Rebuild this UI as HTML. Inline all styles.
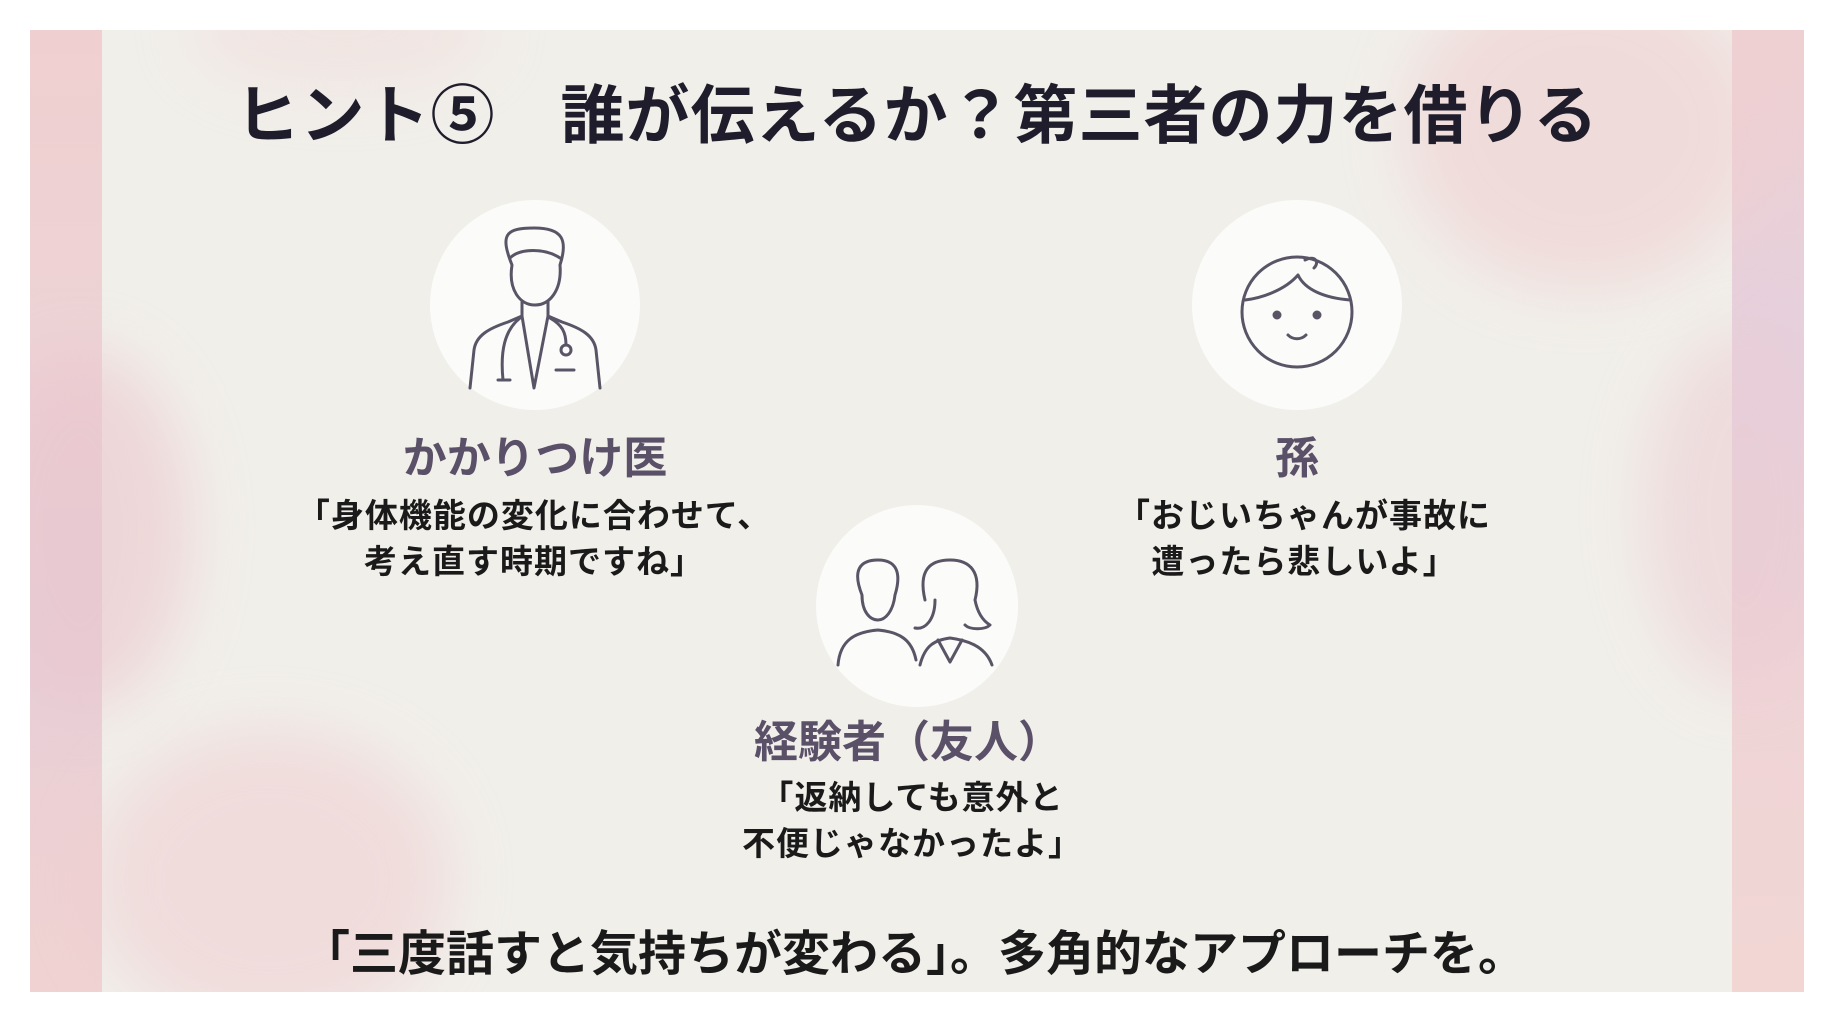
<!DOCTYPE html>
<html><head><meta charset="utf-8"><style>
html,body{margin:0;padding:0;background:#fff;}
body{width:1834px;height:1024px;position:relative;overflow:hidden;font-family:"Liberation Sans","Noto Sans CJK JP",sans-serif;}
#slide{position:absolute;left:30px;top:30px;width:1774px;height:962px;background:#f1efea;overflow:hidden;}
.bg{position:absolute;border-radius:50%;filter:blur(30px);}
.t{position:absolute;white-space:nowrap;text-align:center;transform:translateX(-50%);font-weight:700;}
.circ{position:absolute;border-radius:50%;background:#fbfbf9;}
</style></head><body>
<div id="slide">
 <div style="position:absolute;left:0;top:0;width:72px;height:962px;background:linear-gradient(180deg,#f0cfd0 0%,#edd3d5 30%,#e4cfdc 60%,#ecd0d3 80%,#f0d2d2 100%);"></div>
 <div style="position:absolute;right:0;top:0;width:72px;height:962px;background:linear-gradient(180deg,#efd0d2 0%,#e3d0df 40%,#efd4d6 70%,#f1d6d4 100%);"></div>
 <div class="bg" style="left:-60px;top:320px;width:220px;height:360px;background:#ebc6cc;opacity:.6"></div>
 <div class="bg" style="left:60px;top:700px;width:360px;height:300px;background:#efcdd0;opacity:.55"></div>
 <div class="bg" style="right:40px;top:-60px;width:360px;height:320px;background:#efcfd0;opacity:.6"></div>
 <div class="bg" style="right:-40px;top:300px;width:200px;height:360px;background:#ecccd2;opacity:.55"></div>
 <div class="bg" style="left:160px;top:-60px;width:300px;height:120px;background:#f0d6d6;opacity:.4"></div>
</div>

<div class="t" style="left:917px;top:65px;font-size:64px;color:#1f1d2b;letter-spacing:1px;">ヒント⑤　誰が伝えるか？第三者の力を借りる</div>

<div class="circ" style="left:430px;top:200px;width:210px;height:210px;"></div>
<div class="circ" style="left:1192px;top:200px;width:210px;height:210px;"></div>
<div class="circ" style="left:816px;top:505px;width:202px;height:202px;"></div>

<svg style="position:absolute;left:0;top:0" width="1834" height="1024" fill="none" stroke="#5a5566" stroke-width="3" stroke-linecap="round" stroke-linejoin="round">
 <path d="M512 265 C500 235 505 228 534 228 C563 228 568 240 560 265 C562 290 550 305 535 305 C520 305 508 290 512 265 Z"/>
 <path d="M510 258 C520 248 545 248 560 258"/>
 <path d="M522 302 L522 318 M548 302 L548 318"/>
 <path d="M470 388 L474 350 C476 335 490 328 508 322 L522 316 L534 388 L548 316 L562 322 C580 328 594 335 596 350 L600 388"/>
 <path d="M520 318 C505 330 500 350 503 380 M498 380 h12"/>
 <path d="M550 318 C562 325 566 332 566 345"/><circle cx="566" cy="350" r="5"/>
 <path d="M556 370 h18"/>
 <circle cx="1297" cy="312" r="55"/>
 <path d="M1245 300 C1262 298 1285 290 1298 275 C1305 290 1325 298 1350 300"/>
 <path d="M1305 260 C1315 255 1320 262 1314 268"/>
 <circle cx="1277" cy="315" r="3" fill="#5a5566"/><circle cx="1317" cy="315" r="3" fill="#5a5566"/>
 <path d="M1288 335 C1293 340 1301 340 1306 335"/>
 <path d="M862 595 C852 570 860 560 878 560 C896 560 902 572 895 595 C893 612 885 620 878 620 C870 620 862 612 862 595 Z"/>
 <path d="M838 665 C840 640 855 632 878 630 C900 632 912 640 916 660"/>
 <path d="M925 600 C918 570 930 560 950 560 C970 560 982 572 975 600 C978 615 985 622 990 625 C985 630 970 630 965 625 M935 600 C935 620 925 630 915 628"/>
 <path d="M920 665 C925 645 935 640 950 638 C965 640 985 645 992 665"/>
 <path d="M938 640 L950 662 L962 640"/>
</svg>

<div class="t" style="left:535px;top:422px;font-size:44px;color:#5a5068;">かかりつけ医</div>
<div class="t" style="left:534px;top:493px;font-size:33px;color:#1a1a1a;line-height:46px;letter-spacing:1px;">「身体機能の変化に合わせて、<br>考え直す時期ですね」</div>

<div class="t" style="left:1297px;top:422px;font-size:44px;color:#5a5068;">孫</div>
<div class="t" style="left:1304px;top:493px;font-size:33px;color:#1a1a1a;line-height:46px;letter-spacing:1px;">「おじいちゃんが事故に<br>遭ったら悲しいよ」</div>

<div class="t" style="left:908px;top:706px;font-size:44px;color:#5a5068;">経験者（友人）</div>
<div class="t" style="left:912px;top:775px;font-size:33px;color:#1a1a1a;line-height:46px;letter-spacing:1px;">「返納しても意外と<br>不便じゃなかったよ」</div>

<div class="t" style="left:914px;top:914px;font-size:48px;color:#1a1a1a;">「三度話すと気持ちが変わる」。多角的なアプローチを。</div>
</body></html>
